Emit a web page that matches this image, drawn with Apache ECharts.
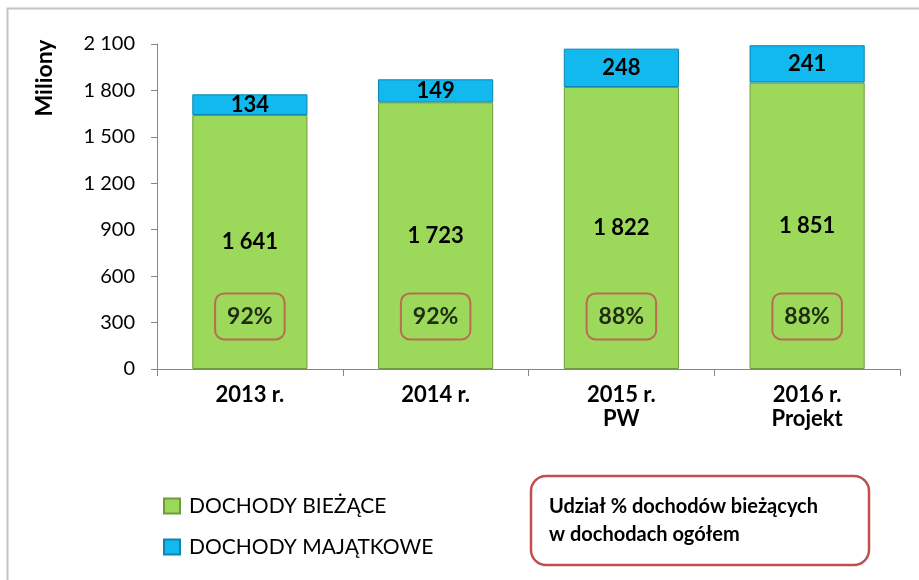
<!DOCTYPE html>
<html>
<head>
<meta charset="utf-8">
<title>Dochody</title>
<script src="https://cdn.jsdelivr.net/npm/echarts@6/dist/echarts.min.js"></script>
<style>
  html, body { margin: 0; padding: 0; background: #fff; }
  #chartBox { width: 919px; height: 580px; }
</style>
</head>
<body>
<div id="chartBox"></div>
<script>
// dane wykresu
var categories = ['2013 r.', '2014 r.', '2015 r.\nPW', '2016 r.\nProjekt'];
var biezace = [1641, 1723, 1822, 1851];
var majatkowe = [134, 149, 248, 241];
var udzial = [92, 92, 88, 88];
var yTicks = [0, 300, 600, 900, 1200, 1500, 1800, 2100];
var seriesNames = ['DOCHODY BIEŻĄCE', 'DOCHODY MAJĄTKOWE'];

var FONT = 'Lato';

// 1641 -> "1 641"
function fmt(v) {
  return String(v).replace(/\B(?=(\d{3})+(?!\d))/g, ' ');
}

var chart = echarts.init(document.getElementById('chartBox'));

var option = {
  animation: false,
  textStyle: { fontFamily: FONT },
  grid: { left: 157, right: 19, top: 44, bottom: 211 },
  legend: {
    data: seriesNames,
    orient: 'vertical',
    left: 158,
    top: 490,
    itemWidth: 16,
    itemHeight: 15,
    itemGap: 19,
    icon: 'rect',
    textStyle: { fontFamily: FONT, fontSize: 21, color: '#000', lineHeight: 22, padding: [0, 0, 0, 4] }
  },
  xAxis: {
    type: 'category',
    data: categories,
    axisLine: { lineStyle: { color: '#868686', width: 1 } },
    axisTick: { show: true, length: 7, lineStyle: { color: '#868686' } },
    axisLabel: {
      fontFamily: FONT, fontSize: 22, fontWeight: 'bold', color: '#000',
      lineHeight: 24, margin: 14, interval: 0
    }
  },
  yAxis: {
    type: 'value',
    min: yTicks[0],
    max: yTicks[yTicks.length - 1],
    interval: 300,
    splitLine: { show: false },
    axisLine: { show: true, lineStyle: { color: '#868686', width: 1 } },
    axisTick: { show: true, length: 6, lineStyle: { color: '#868686' } },
    axisLabel: {
      fontFamily: FONT, fontSize: 20, color: '#000', margin: 22,
      formatter: function (v) { return fmt(v); }
    }
  },
  series: [
    {
      name: seriesNames[0],
      type: 'bar',
      stack: 'dochody',
      barCategoryGap: '38%',
      data: biezace,
      itemStyle: { color: '#9cd95a', borderColor: '#6f9c3c', borderWidth: 1 },
      label: {
        show: true, position: 'inside', color: '#000',
        fontFamily: FONT, fontSize: 22, fontWeight: 'bold',
        formatter: function (p) { return fmt(p.value); }
      }
    },
    {
      name: seriesNames[1],
      type: 'bar',
      stack: 'dochody',
      data: majatkowe,
      itemStyle: { color: '#12b9ee', borderColor: '#0a86b0', borderWidth: 1 },
      label: {
        show: true, position: 'inside', color: '#000',
        fontFamily: FONT, fontSize: 22, fontWeight: 'bold',
        formatter: function (p) { return fmt(p.value); }
      }
    },
    {
      // ramki z udziałem procentowym
      name: 'udzial',
      type: 'scatter',
      symbol: 'rect',
      symbolSize: 1,
      itemStyle: { color: 'rgba(0,0,0,0)' },
      z: 5,
      data: udzial.map(function (p, i) { return { value: [i, 340], pct: p }; }),
      label: {
        show: true, position: 'inside', color: '#000',
        fontFamily: FONT, fontSize: 23, fontWeight: 'bold',
        borderColor: '#c0504d', borderWidth: 2, borderRadius: 9,
        padding: [12, 12, 11, 12],
        formatter: function (p) { return p.data.pct + '%'; }
      }
    }
  ],
  graphic: [
    {
      type: 'rect',
      shape: { x: 7.5, y: 8.5, width: 940, height: 600 },
      style: { fill: 'none', stroke: '#c4c4c4', lineWidth: 2 },
      silent: true
    },
    {
      type: 'text',
      x: 45, y: 78,
      rotation: Math.PI / 2,
      style: {
        text: 'Miliony', fill: '#000', font: 'bold 23px ' + FONT,
        align: 'center', verticalAlign: 'middle'
      }
    },
    {
      type: 'rect',
      shape: { x: 531, y: 476, width: 338, height: 89, r: 15 },
      style: { fill: '#fff', stroke: '#c0504d', lineWidth: 2.5 }
    },
    {
      type: 'text',
      x: 549, y: 521,
      style: {
        text: 'Udział % dochodów bieżących\nw dochodach ogółem',
        fill: '#000', font: 'bold 20px ' + FONT, lineHeight: 28,
        align: 'left', verticalAlign: 'middle'
      }
    }
  ]
};

chart.setOption(option);
</script>
</body>
</html>
